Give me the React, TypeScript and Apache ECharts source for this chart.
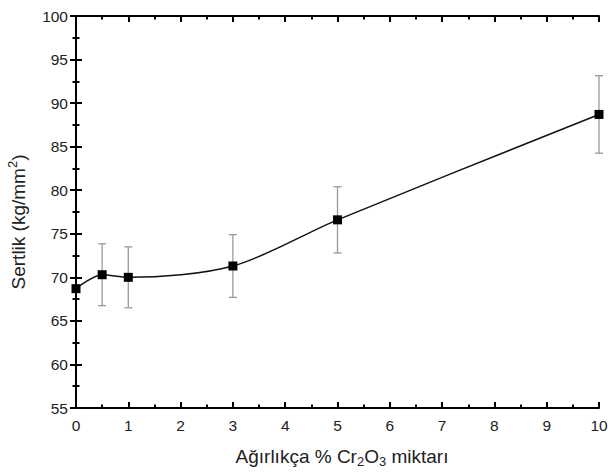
import React, { useEffect, useRef } from "react";
import * as echarts from "echarts";

const xValues = [0, 0.5, 1, 3, 5, 10];
const hardness = [68.7, 70.3, 70.0, 71.3, 76.6, 88.7];
const errors = [0, 3.55, 3.5, 3.6, 3.8, 4.45];
const xTitle = "Ağırlıkça % Cr{sub|2}O{sub|3} miktarı";
const yTitle = "Sertlik (kg/mm{sup|2})";

const FONT = "'Liberation Sans', Arial, sans-serif";

export default function App() {
  const ref = useRef<HTMLDivElement>(null);
  useEffect(() => {
    document.body.style.margin = "0";
    const chart = echarts.init(ref.current!, null, { renderer: "svg" });
    const axisLine = { lineStyle: { color: "#000", width: 2 } };
    const tick = { show: true, inside: true, length: 6, lineStyle: { color: "#000", width: 2 } };
    const minor = { show: true, splitNumber: 2, length: 3.5, lineStyle: { color: "#000", width: 2 } };
    const labelStyle = { color: "#222", fontSize: 15.5, fontFamily: FONT };
    chart.setOption({
      animation: false,
      backgroundColor: "#fff",
      grid: { left: 76, right: 9, top: 16, bottom: 64, containLabel: false, outerBoundsMode: "none" },
      xAxis: [
        {
          type: "value", min: 0, max: 10, interval: 1, position: "bottom",
          axisLine, axisTick: tick, minorTick: minor, splitLine: { show: false },
          axisLabel: { ...labelStyle, margin: 9 },
          name: xTitle, nameLocation: "middle", nameGap: 36,
          nameTextStyle: {
            color: "#222", fontSize: 19, fontFamily: FONT, lineHeight: 24,
            padding: [0, 0, 0, 9],
            rich: { sub: { fontSize: 13, lineHeight: 13, verticalAlign: "bottom", color: "#222", fontFamily: FONT } },
          },
        },
        {
          type: "value", min: 0, max: 10, interval: 1, position: "top",
          axisLine, axisTick: tick, minorTick: minor, splitLine: { show: false },
          axisLabel: { show: false },
        },
      ],
      yAxis: [
        {
          type: "value", min: 55, max: 100, interval: 5, position: "left",
          axisLine, axisTick: tick, minorTick: minor, splitLine: { show: false },
          axisLabel: { ...labelStyle, margin: 8 },
          name: yTitle, nameLocation: "middle", nameGap: 46, nameRotate: 90,
          nameTextStyle: {
            color: "#222", fontSize: 19, fontFamily: FONT, lineHeight: 24,
            padding: [0, 20, 0, 0],
            rich: { sup: { fontSize: 13, lineHeight: 13, verticalAlign: "top", color: "#222", fontFamily: FONT } },
          },
        },
        {
          type: "value", min: 55, max: 100, interval: 5, position: "right",
          axisLine, axisTick: tick, minorTick: minor, splitLine: { show: false },
          axisLabel: { show: false },
        },
      ],
      series: [
        {
          type: "custom",
          xAxisIndex: 0, yAxisIndex: 0,
          z: 1,
          clip: false,
          data: xValues.map((x, i) => [x, hardness[i], errors[i]]),
          renderItem: (params: any, api: any) => {
            const x = api.value(0), y = api.value(1), e = api.value(2);
            if (!e) return null;
            const top = api.coord([x, y + e]);
            const bot = api.coord([x, y - e]);
            const hw = 4;
            const style = { stroke: "#999", lineWidth: 1.3 };
            return {
              type: "group",
              children: [
                { type: "line", shape: { x1: top[0], y1: top[1], x2: bot[0], y2: bot[1] }, style },
                { type: "line", shape: { x1: top[0] - hw, y1: top[1], x2: top[0] + hw, y2: top[1] }, style },
                { type: "line", shape: { x1: bot[0] - hw, y1: bot[1], x2: bot[0] + hw, y2: bot[1] }, style },
              ],
            };
          },
        },
        {
          type: "line",
          xAxisIndex: 0, yAxisIndex: 0,
          z: 5,
          data: xValues.map((x, i) => [x, hardness[i]]),
          smooth: 0.3,
          symbol: "rect",
          symbolSize: 9,
          itemStyle: { color: "#000" },
          lineStyle: { color: "#111", width: 1.5 },
          clip: false,
        },
      ],
    });
    return () => chart.dispose();
  }, []);
  return <div ref={ref} style={{ width: 608, height: 472, position: "absolute", left: 0, top: 0 }} />;
}
